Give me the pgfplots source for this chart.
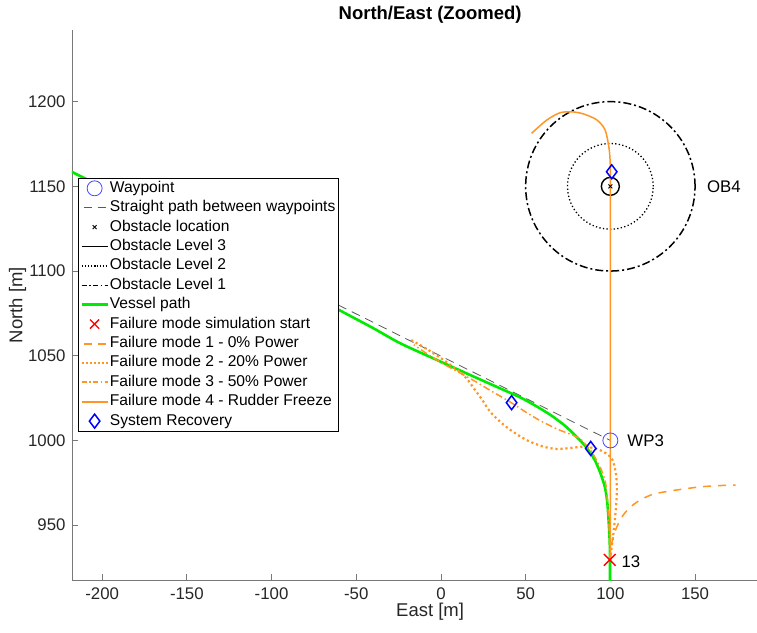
\documentclass[border=0pt]{standalone}
\usepackage{pgfplots}
\pgfplotsset{compat=1.18}
\usepackage{fontspec}
\setmainfont{Liberation Sans}
\definecolor{fmorange}{RGB}{255,150,35}
\definecolor{axgray}{RGB}{120,120,120}
\definecolor{wpblue}{RGB}{70,70,255}
\definecolor{pathgray}{RGB}{90,90,90}
\definecolor{vgreen}{RGB}{0,235,0}
\begin{document}
\begin{tikzpicture}
\begin{axis}[
  x=1.694pt, y=1.694pt,
  xmin=-217.8, xmax=205, ymin=917.6, ymax=1242.3,
  axis x line*=bottom, axis y line*=left,
  axis line style={axgray, line width=0.8pt, -},
  tick align=inside,
  major tick length=6pt,
  tick style={axgray, line width=0.8pt},
  xtick={-200,-150,...,150},
  ytick={950,1000,...,1200},
  /pgf/number format/assume math mode=true,
  /pgf/number format/1000 sep={},
  ticklabel style={font=\fontsize{16.8}{20}\selectfont, text=black!85},
  yticklabel style={xshift=-3pt},
  xticklabel style={yshift=-4pt},
  xlabel={East [m]}, ylabel={North [m]},
  every axis x label/.style={at={(axis description cs:0.5,-0.0582)}, anchor=center, font=\fontsize{18.5}{22}\selectfont, text=black!85},
  every axis y label/.style={at={(axis description cs:-0.0761,0.5)}, rotate=90, anchor=center, font=\fontsize{18.5}{22}\selectfont, text=black!85},
  title={North/East (Zoomed)},
  every axis title/.style={at={(axis description cs:0.5,1.0273)}, anchor=center, font=\bfseries\fontsize{18.5}{22}\selectfont},
  legend style={at={(0.0084,0.7309)}, anchor=north west, draw=black, line width=0.6pt, fill=white,
    font=\fontsize{15.6}{18}\selectfont, inner xsep=2pt, inner ysep=1pt, row sep=1.4pt,
    nodes={text height=12pt, text depth=4pt, inner sep=1pt}},
  legend cell align=left,
  legend image code/.code={\draw[mark repeat=2,mark phase=2,#1] plot coordinates {(0pt,0pt) (13pt,0pt) (26pt,0pt)};},
]
\coordinate (BL) at (rel axis cs:0,0);
\coordinate (TL) at (rel axis cs:0,1);

% legend images (explicit, in reference order)
\addlegendimage{only marks, mark=o, mark size=7.5pt, wpblue, line width=0.8pt}
\addlegendentry{Waypoint}
\addlegendimage{draw=pathgray, line width=1.1pt, dash pattern=on 8pt off 6pt, dash phase=-2pt}
\addlegendentry{Straight path between waypoints}
\addlegendimage{only marks, mark=x, mark size=2.8pt, black, line width=1pt}
\addlegendentry{Obstacle location}
\addlegendimage{draw=black, line width=1.4pt}
\addlegendentry{Obstacle Level 3}
\addlegendimage{draw=black, line width=1.2pt, dash pattern=on 1.2pt off 1.8pt}
\addlegendentry{Obstacle Level 2}
\addlegendimage{draw=black, line width=1.4pt, dash pattern=on 5pt off 2.5pt on 1.5pt off 2.5pt}
\addlegendentry{Obstacle Level 1}
\addlegendimage{draw=vgreen, line width=2.6pt}
\addlegendentry{Vessel path}
\addlegendimage{only marks, mark=x, mark size=6.5pt, red, line width=1.4pt}
\addlegendentry{Failure mode simulation start}
\addlegendimage{draw=fmorange, line width=2pt, dash pattern=on 8pt off 6pt, dash phase=-2pt}
\addlegendentry{Failure mode 1 - 0\% Power}
\addlegendimage{draw=fmorange, line width=2.2pt, dash pattern=on 2pt off 2pt}
\addlegendentry{Failure mode 2 - 20\% Power}
\addlegendimage{draw=fmorange, line width=1.8pt, dash pattern=on 5pt off 2.5pt on 1.5pt off 2.5pt}
\addlegendentry{Failure mode 3 - 50\% Power}
\addlegendimage{draw=fmorange, line width=1.8pt}
\addlegendentry{Failure mode 4 - Rudder Freeze}
\addlegendimage{only marks, mark=diamond, mark size=7pt, blue, line width=1.5pt}
\addlegendentry{System Recovery}

% Waypoint
\addplot[only marks, mark=o, mark size=7.5pt, wpblue, line width=0.8pt, forget plot] coordinates {(100,1000)};
% Straight path
\addplot[pathgray, line width=0.8pt, dash pattern=on 9pt off 6pt, forget plot] coordinates {(-235,1166.8) (100,1000)};
% Obstacle location
\addplot[only marks, mark=x, mark size=2.8pt, black, line width=1pt, forget plot] coordinates {(100,1150)};
% obstacle circles
\draw[black, line width=1.4pt] (axis cs:100,1150) circle[radius=5.3];
\draw[black, line width=1.3pt, dash pattern=on 1.3pt off 2.3pt] (axis cs:100,1150) circle[radius=25.3];
\draw[black, line width=1.5pt, dash pattern=on 8pt off 3pt on 2pt off 3pt] (axis cs:100,1150) circle[radius=50];
% Vessel path
\addplot[vgreen, line width=2.6pt, smooth, forget plot] coordinates {
(-235,1166.8) (-217.8,1158.5) (-180,1139.5) (-150,1124.2) (-120,1108.8) (-100,1098.6)
(-80,1088.2) (-61,1077.5) (-40,1066.3) (-24.3,1057.5) (-4.6,1048.5) (15.1,1039.6)
(34.8,1030.8) (46.6,1025.5) (54.4,1021.3) (60,1018) (66.2,1014) (74,1008) (82,1000.2)
(86.5,995) (90.8,988.4) (94,981) (96.7,972.7) (98,965) (98.7,957) (99.4,945)
(99.7,937.3) (99.8,925) (99.8,912)};
% FM1
\addplot[fmorange, line width=1.5pt, dash pattern=on 8pt off 7pt, smooth, forget plot] coordinates {
(99.8,929.5) (100.2,935) (101.2,941) (102.8,946.5) (105,951.5) (108,956.5) (112,960.8)
(117.5,964.8) (125,968.2) (133,969.8) (143,971.3) (153,972.6) (163,973.3) (174,973.7)};
% FM2
\addplot[fmorange, line width=2.2pt, dash pattern=on 2.2pt off 2.8pt, smooth, forget plot] coordinates {
(99.8,929.5) (100.8,937) (101.8,945) (103,957) (103.8,968) (103.6,978) (102,986.5)
(100,990.4) (96,993.3) (91,995.3) (84,996.3) (76,995.5) (68,995) (60,996.5) (51,1000)
(42,1005.5) (35,1011) (29,1017) (24,1024.5) (20,1030) (16,1035.5) (12,1039.8)
(7,1043.5) (3,1046.5) (-3,1050.5) (-10,1055) (-18,1059.5)};
% FM3
\addplot[fmorange, line width=1.5pt, dash pattern=on 7pt off 3pt on 1.5pt off 3pt, smooth, forget plot] coordinates {
(99.8,929.5) (99.6,940) (99.2,950) (98.6,960) (97.8,970) (96.8,976.6) (93.9,984.5)
(91.5,989) (88.5,994) (85,998) (82,1001.2) (76,1003.8) (68,1007) (58.4,1011.8)
(50,1016.8) (40.7,1022.8) (30,1029) (20,1035) (10,1040.5) (0,1046) (-8,1051) (-16,1056.5)};
% FM4
\addplot[fmorange, line width=1.5pt, smooth, forget plot] coordinates {
(100,929.5) (100,1000) (100,1100) (100,1155) (99.8,1166) (99,1174) (96.8,1183.5)
(91.9,1189.3) (84,1192.8) (77.2,1194) (70.2,1193.4) (62.4,1189.1) (53.5,1181.3)};
% FM start
\addplot[only marks, mark=x, mark size=8.3pt, red, line width=1.4pt, forget plot] coordinates {(99.6,929.5)};
% System recovery
\addplot[only marks, mark=diamond, mark size=7pt, blue, line width=1.5pt, forget plot] coordinates {
(41.7,1022.3) (88.4,995.3) (100.8,1158.6)};

\node[anchor=west, font=\fontsize{16.8}{20}\selectfont] at (axis cs:155,1150) {OB4};
\node[anchor=west, font=\fontsize{16.8}{20}\selectfont] at (axis cs:108,1000) {WP3};
\node[anchor=west, font=\fontsize{16.8}{20}\selectfont] at (axis cs:104.5,928.5) {13};
\end{axis}
\pgfresetboundingbox
\useasboundingbox ([xshift=-72pt,yshift=-52pt]BL) rectangle ([xshift=685pt,yshift=30pt]TL);
\end{tikzpicture}
\end{document}
